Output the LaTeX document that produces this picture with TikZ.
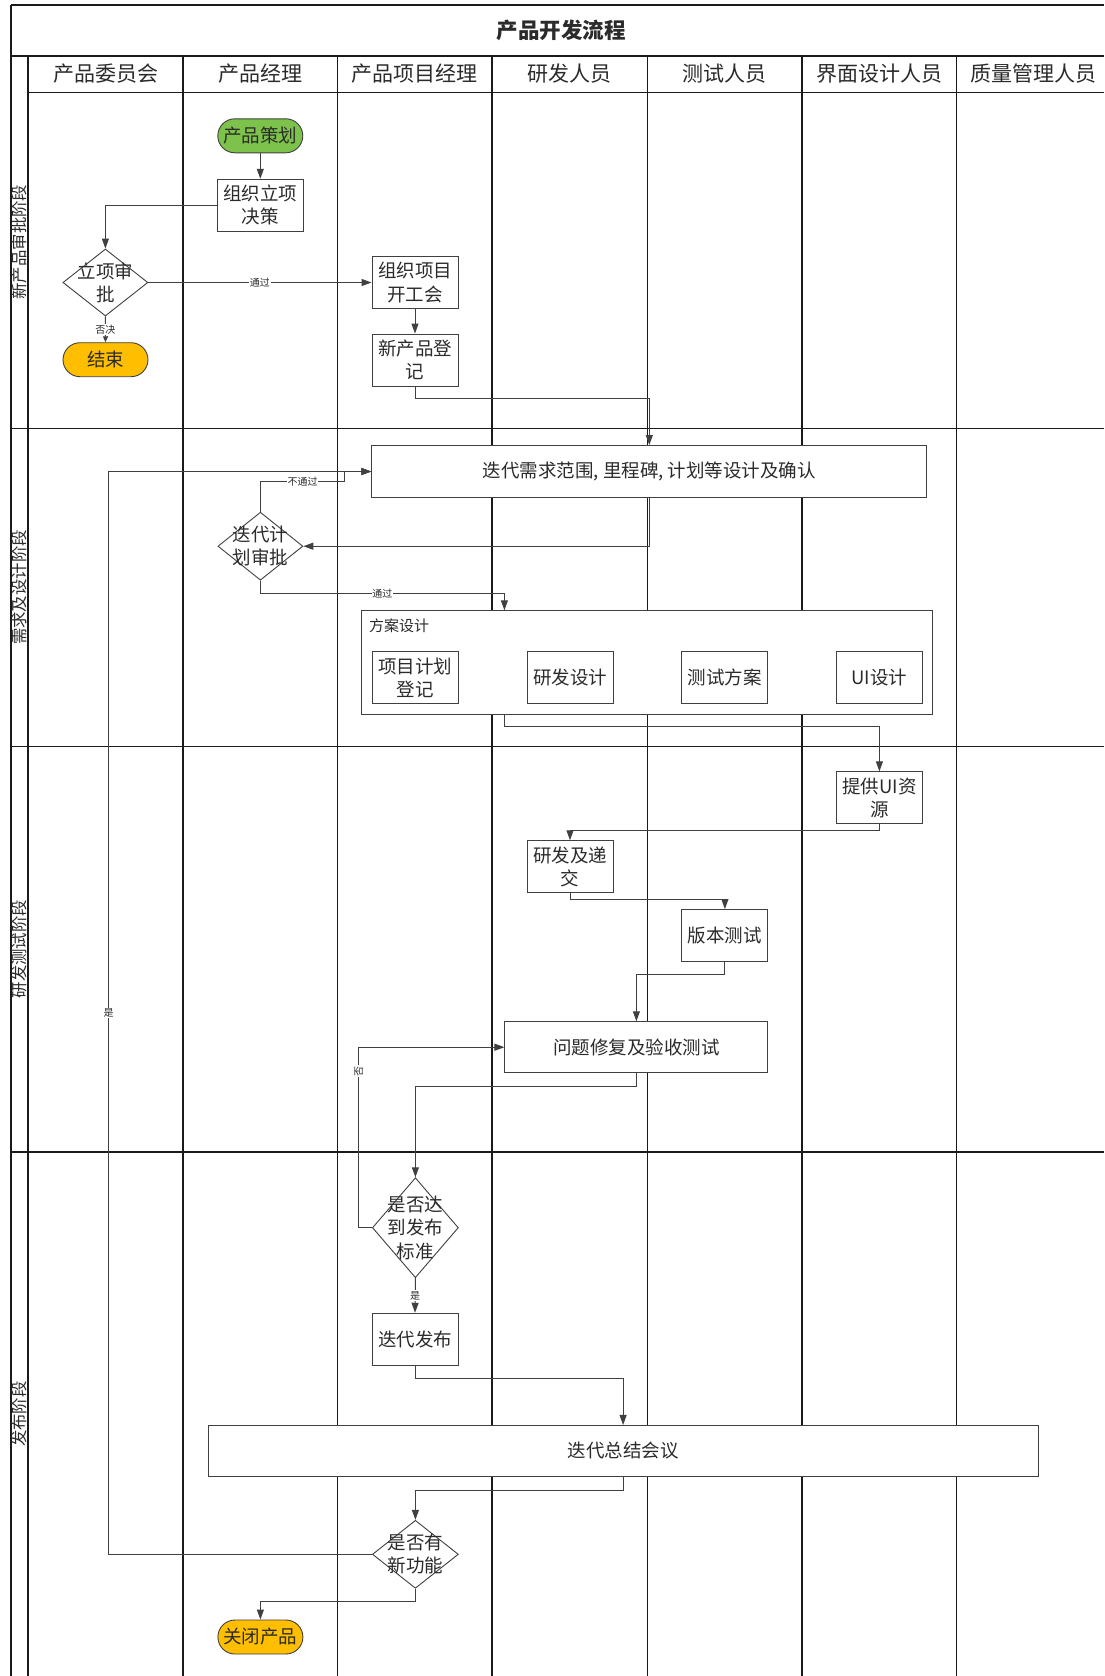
\documentclass[tikz,border=0pt]{standalone}
\usepackage{fontspec}
\setmainfont{Noto Sans CJK SC}
\usetikzlibrary{arrows.meta,shapes.geometric}
\definecolor{lanec}{HTML}{1A1A1A}
\definecolor{boxc}{HTML}{404040}
\definecolor{txtc}{HTML}{2B2B2B}
\definecolor{startg}{HTML}{7DC24A}
\definecolor{endo}{HTML}{FFBE00}
\newcommand\NdFont{\fontsize{18.5}{23.3}\selectfont}
\newcommand\HdFont{\fontsize{21}{25}\selectfont}
\newcommand\TtFont{\fontsize{21.5}{26}\selectfont\bfseries}
\newcommand\PhFont{\fontsize{16.4}{19}\selectfont}
\newcommand\LbFont{\fontsize{10}{12}\selectfont}
\newcommand\CtFont{\fontsize{15}{18}\selectfont}
\begin{document}
\begin{tikzpicture}[x=1pt,y=-1pt,
  lane/.style={draw=lanec, line width=1.2pt},
  box/.style={draw=boxc, fill=white, line width=0.9pt, minimum width=86pt, minimum height=52pt, inner sep=0pt, align=center, font=\NdFont, text=txtc},
  term/.style={draw=boxc, line width=0.9pt, rounded corners=17pt, minimum width=85pt, minimum height=34pt, inner sep=0pt, font=\NdFont, text=txtc},
  dia/.style={diamond, draw=boxc, fill=white, line width=0.9pt, inner sep=0pt, minimum width=86pt, minimum height=#1},
  dia/.default=68pt,
  dtxt/.style={align=center, font=\NdFont, text=txtc, inner sep=0pt},
  hdr/.style={font=\HdFont, text=txtc, inner sep=0pt},
  phase/.style={font=\PhFont, text=txtc, rotate=90, inner sep=0pt},
  conn/.style={draw=boxc, line width=1pt, -{Triangle[length=10pt,width=7pt]}},
  connsm/.style={draw=boxc, line width=1pt, -{Triangle[length=6pt,width=5pt]}},
  lbl/.style={font=\LbFont, text=txtc, fill=white, inner sep=0.8pt}
]
\useasboundingbox (0,0) rectangle (1104,1676);
\fill[white] (0,0) rectangle (1104,1676);
% grid
\draw[lane] (11,5) -- (1104,5);
\draw[lane] (11,5) -- (11,1676);
\draw[lane] (11,56) -- (1104,56);
\draw[lane] (28,56) -- (28,1676);
\draw[lane] (28,92.5) -- (1104,92.5);
\foreach \xx in {183,337.5,492,647.5,802,956.5} {\draw[lane] (\xx,56) -- (\xx,1676);}
\foreach \yy in {428.5,746.5,1152} {\draw[lane] (11,\yy) -- (1104,\yy);}
% title and headers
\node[font=\TtFont, text=txtc] (title) at (561,30.5) {产品开发流程};
\node[hdr] (h1) at (105.5,74) {产品委员会};
\node[hdr] (h2) at (260.25,74) {产品经理};
\node[hdr] (h3) at (414.75,74) {产品项目经理};
\node[hdr] (h4) at (569.75,74) {研发人员};
\node[hdr] (h5) at (724.75,74) {测试人员};
\node[hdr] (h6) at (879.25,74) {界面设计人员};
\node[hdr] (h7) at (1033.75,74) {质量管理人员};
\node[phase] (ph1) at (19.5,242) {新产品审批阶段};
\node[phase] (ph2) at (19.5,587.5) {需求及设计阶段};
\node[phase] (ph3) at (19.5,949) {研发测试阶段};
\node[phase] (ph4) at (19.5,1414) {发布阶段};
% nodes
\node[term, fill=startg] (start) at (260.3,135.8) {产品策划};
\node[box] (d1) at (260.3,205.2) {组织立项\\决策};
\node[dia=67pt, minimum width=85pt] (approve) at (105.4,282.5) {};
\node[dtxt] (approvet) at (approve.center) {立项审\\批};
\node[box] (kick) at (415,282.5) {组织项目\\开工会};
\node[box] (reg) at (415,360) {新产品登\\记};
\node[term, fill=endo] (end1) at (105.5,359.7) {结束};
\node[box, minimum width=555pt] (req) at (649.3,471.5) {迭代需求范围, 里程碑, 计划等设计及确认};
\node[dia=68pt, minimum width=85pt] (plan) at (260.4,546.2) {};
\node[dtxt] (plant) at (plan.center) {迭代计\\划审批};
\node[draw=boxc, fill=white, line width=0.9pt, minimum width=571.3pt, minimum height=103.3pt, inner sep=0pt] (cont) at (647.15,662.35) {};
\node[font=\CtFont, text=txtc, anchor=west, inner sep=0pt] (contl) at (369,626) {方案设计};
\node[box] (p1) at (415,677.5) {项目计划\\登记};
\node[box] (p2) at (570,677.5) {研发设计};
\node[box] (p3) at (724.6,677.5) {测试方案};
\node[box] (p4) at (879.5,677.5) {UI设计};
\node[box] (ui) at (879.4,797.8) {提供UI资\\源};
\node[box] (dev) at (570,866.7) {研发及递\\交};
\node[box] (test) at (724.9,935.5) {版本测试};
\node[box, minimum width=263pt, minimum height=51pt] (fix) at (636.4,1047.2) {问题修复及验收测试};
\node[dia=100pt] (rel) at (415.4,1227.7) {};
\node[dtxt] (relt) at (rel.center) {是否达\\到发布\\标准};
\node[box] (release) at (415,1339.2) {迭代发布};
\node[box, minimum width=830pt, minimum height=51pt] (summary) at (623.1,1450.9) {迭代总结会议};
\node[dia=68pt] (newf) at (415.4,1554.3) {};
\node[dtxt] (newft) at (newf.center) {是否有\\新功能};
\node[term, fill=endo] (close) at (260.4,1637) {关闭产品};
% connectors
\draw[conn] (start.south) -- (d1.north);
\draw[conn] (d1.west) -| (approve.north);
\draw[conn] (approve.east) -- node[lbl]{通过} (kick.west);
\draw[connsm] (approve.south) -- node[lbl]{否决} (end1.north);
\draw[conn] (kick.south) -- (reg.north);
\draw[conn] (reg.south) -- ++(0,12.5) -| (req.north);
\draw[conn] (req.south) |- (plan.east);
\draw[conn] (plan.north) -- ++(0,-30) -- node[lbl]{不通过} ++(84.2,0) |- (req.west);
\draw[conn] (newf.west) -- ++(-263.4,0) |- node[lbl, pos=0.25]{是} (req.west);
\coordinate (pA) at (504.4,593.5);
\draw[conn] (plan.south) |- node[lbl, pos=0.75]{通过} (pA) -- (pA |- cont.north);
\coordinate (pB) at (504.5,726.7);
\draw[conn] (pB |- cont.south) -- (pB) -| (ui.north);
\draw[conn] (ui.south) -- ++(0,6.7) -| (dev.north);
\draw[conn] (dev.south) -- ++(0,6.6) -| (test.north);
\draw[conn] (test.south) -- ++(0,12.7) -| (fix.north);
\draw[conn] (fix.south) -- ++(0,13) -| (rel.north);
\draw[conn] (rel.west) -- ++(-13.5,0) |- (fix.west);
\node[lbl, rotate=90] (lbno) at (358.9,1071) {否};
\draw[conn] (rel.south) -- node[lbl]{是} (release.north);
\draw[conn] (release.south) -- ++(0,13) -| (summary.north);
\draw[conn] (summary.south) -- ++(0,13.5) -| (newf.north);
\draw[conn] (newf.south) -- ++(0,12.7) -| (close.north);
\end{tikzpicture}
\end{document}
